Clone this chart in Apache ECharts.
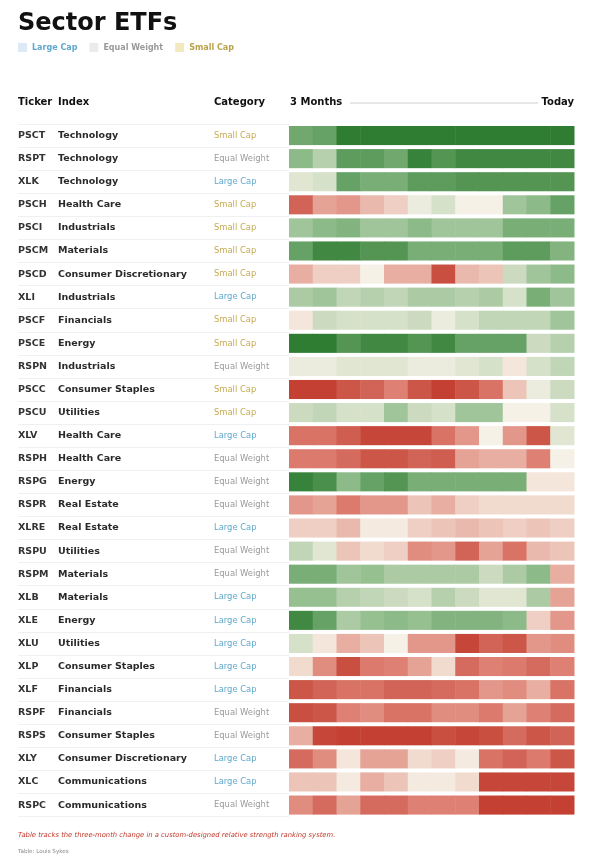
<!DOCTYPE html>
<html>
<head>
<meta charset="utf-8">
<script src="https://cdn.jsdelivr.net/npm/echarts@6/dist/echarts.min.js"></script>
<style>
  html, body { margin: 0; padding: 0; background: #fff; }
  #chart { width: 591px; height: 860px; }
</style>
</head>
<body>
<div id="chart"></div>
<script>
// rows, top to bottom
var tickers = ['PSCT', 'RSPT', 'XLK', 'PSCH', 'PSCI', 'PSCM', 'PSCD', 'XLI', 'PSCF', 'PSCE',
  'RSPN', 'PSCC', 'PSCU', 'XLV', 'RSPH', 'RSPG', 'RSPR', 'XLRE', 'RSPU', 'RSPM',
  'XLB', 'XLE', 'XLU', 'XLP', 'XLF', 'RSPF', 'RSPS', 'XLY', 'XLC', 'RSPC']
var sectors = ['Technology', 'Technology', 'Technology', 'Health Care', 'Industrials', 'Materials',
  'Consumer Discretionary', 'Industrials', 'Financials', 'Energy', 'Industrials', 'Consumer Staples',
  'Utilities', 'Health Care', 'Health Care', 'Energy', 'Real Estate', 'Real Estate', 'Utilities',
  'Materials', 'Materials', 'Energy', 'Utilities', 'Consumer Staples', 'Financials', 'Financials',
  'Consumer Staples', 'Consumer Discretionary', 'Communications', 'Communications']
var caps = ['Small Cap', 'Equal Weight', 'Large Cap', 'Small Cap', 'Small Cap', 'Small Cap',
  'Small Cap', 'Large Cap', 'Small Cap', 'Small Cap', 'Equal Weight', 'Small Cap',
  'Small Cap', 'Large Cap', 'Equal Weight', 'Equal Weight', 'Equal Weight', 'Large Cap',
  'Equal Weight', 'Equal Weight', 'Large Cap', 'Large Cap', 'Large Cap', 'Large Cap',
  'Large Cap', 'Equal Weight', 'Equal Weight', 'Large Cap', 'Large Cap', 'Equal Weight']
var weeks = ['W1', 'W2', 'W3', 'W4', 'W5', 'W6', 'W7', 'W8', 'W9', 'W10', 'W11', 'W12']

// relative strength change, -10 (weak) .. 10 (strong), oldest -> today
var scores = [
  [6.5, 7, 10, 10, 10, 10, 10, 10, 10, 10, 10, 10],
  [5, 3, 7.5, 7.5, 6.5, 9.5, 8, 9, 9, 9, 9, 9],
  [1, 1.5, 7, 6, 6, 7.5, 7.5, 8, 8, 8, 8, 8],
  [-7, -3.5, -4, -2.5, -1.5, 0.5, 1.5, 0, 0, 4, 5, 7],
  [4, 5, 5.5, 4, 4, 5, 4, 4, 4, 6, 6, 6],
  [7, 9, 9, 8, 8, 6, 6, 6, 6, 7.5, 7.5, 5.5],
  [-3, -1.5, -1.5, 0, -3, -3, -8.5, -2.5, -2, 2, 4, 5],
  [3.5, 4, 2.5, 3, 2.5, 3.5, 3.5, 3, 3.5, 1.5, 6, 4],
  [-0.5, 2, 1.5, 1.5, 1.5, 2, 0.5, 1.5, 2.5, 2.5, 2.5, 4],
  [10, 10, 8, 9, 9, 8, 9, 7, 7, 7, 2, 3],
  [0.5, 0.5, 1, 1, 1, 0.5, 0.5, 1, 1.5, -0.5, 1.5, 2.5],
  [-9.5, -9.5, -8, -7, -5, -8, -9.5, -8, -6, -2, 0.5, 2],
  [2, 2.5, 1.5, 1.5, 4, 2, 1.5, 4, 4, 0, 0, 1.5],
  [-6, -6, -7.5, -9, -9, -9, -6, -4, 0, -4, -8, 1],
  [-5.5, -5.5, -6.5, -8, -8, -7, -7.5, -3.5, -3, -3, -5, 0],
  [9.5, 8.5, 5, 7, 8, 6, 6, 6, 6, 6, -0.5, -0.5],
  [-4, -3.5, -5.5, -4, -4, -2, -3, -1.5, -1, -1, -1, -1],
  [-1.5, -1.5, -2.5, -0.3, -0.3, -1.5, -2, -2.5, -2, -1.5, -2, -1.5],
  [2.5, 1, -2, -1, -1.5, -4.5, -4, -7, -3.5, -6, -2.5, -2],
  [6, 6, 4, 4.5, 3.5, 3.5, 3.5, 3.5, 2, 3.5, 5, -3],
  [4.5, 4.5, 3, 2.5, 2, 1.5, 3, 2, 1, 1, 3.5, -3.5],
  [9, 7, 3.5, 4.5, 5, 4.5, 5.5, 5.5, 5.5, 5, -1.5, -4],
  [1.5, -0.5, -3, -2, 0, -4, -4, -9, -7, -8, -4, -4.5],
  [-1, -4.5, -8.5, -5.5, -5, -3.5, -1, -6.5, -5, -5.5, -6.5, -5],
  [-8, -7, -6, -6, -7, -7, -6.5, -6, -4, -4.5, -3, -6],
  [-8.5, -8, -5, -4.5, -6, -6, -4.5, -4.5, -5.5, -3.5, -5, -6.5],
  [-3, -9, -9.5, -9.5, -9.5, -9.5, -8.5, -9, -8.5, -6.5, -8, -7],
  [-6.5, -4.5, -0.5, -3.5, -3.5, -1, -1.5, -0.3, -6, -7, -5.5, -8],
  [-2, -2, -0.3, -3, -2, -0.3, -0.3, -1, -9, -9, -9, -9],
  [-4.5, -6.5, -3.5, -6.5, -6.5, -5, -5, -5, -9.5, -9.5, -9.5, -9.5]
]

var capColors = { 'Large Cap': '#5fa8cc', 'Equal Weight': '#9a9a9a', 'Small Cap': '#c4aa52' }
var capKeys = { 'Large Cap': 'lc', 'Equal Weight': 'ew', 'Small Cap': 'sc' }

var cells = []
scores.forEach(function(row, r) {
  row.forEach(function(v, c) {
    cells.push([c, r, v])
  })
})

var FONT = 'DejaVu Sans'
var TOP = 124
var HEIGHT = 692.6

var chart = echarts.init(document.getElementById('chart'))
chart.setOption({
  animation: false,
  textStyle: { fontFamily: FONT },
  title: {
    text: 'Sector ETFs',
    left: 13,
    top: 7,
    textStyle: { fontSize: 24, fontWeight: 'bold', color: '#111', fontFamily: FONT }
  },
  legend: {
    left: 18,
    top: 43,
    padding: 0,
    itemWidth: 9,
    itemHeight: 9,
    itemGap: 12,
    icon: 'rect',
    selectedMode: false,
    data: [
      { name: 'Large Cap', textStyle: { color: '#5fa8cc' } },
      { name: 'Equal Weight', textStyle: { color: '#9a9a9a' } },
      { name: 'Small Cap', textStyle: { color: '#b9a24a' } }
    ],
    textStyle: { fontSize: 8, fontWeight: 'bold', fontFamily: FONT }
  },
  graphic: [
    { type: 'text', left: 18, top: 97, style: { text: 'Ticker', font: 'bold 10px "DejaVu Sans"', fill: '#111' } },
    { type: 'text', left: 58, top: 97, style: { text: 'Index', font: 'bold 10px "DejaVu Sans"', fill: '#111' } },
    { type: 'text', left: 214, top: 97, style: { text: 'Category', font: 'bold 10px "DejaVu Sans"', fill: '#111' } },
    { type: 'text', left: 290, top: 97, style: { text: '3 Months', font: 'bold 10px "DejaVu Sans"', fill: '#111' } },
    { type: 'text', right: 17, top: 97, style: { text: 'Today', font: 'bold 10px "DejaVu Sans"', fill: '#111' } },
    { type: 'line', shape: { x1: 350, y1: 103, x2: 538, y2: 103 }, style: { stroke: '#cfcfcf', lineWidth: 1 } },
    { type: 'text', left: 18, top: 832, style: { text: 'Table tracks the three-month change in a custom-designed relative strength ranking system.', font: 'italic 6.8px "DejaVu Sans"', fill: '#c0392b' } },
    { type: 'text', left: 18, top: 849, style: { text: 'Table: Louis Sykes', font: '5.6px "DejaVu Sans"', fill: '#888' } }
  ],
  visualMap: {
    show: false,
    seriesIndex: 3,
    dimension: 2,
    min: -10,
    max: 10,
    inRange: { color: ['#c0392b', '#de8174', '#f6f1e6', '#8cba88', '#2e7d32'] }
  },
  grid: [
    { left: 18, width: 271, top: TOP, height: HEIGHT },
    { left: 289, right: 17, top: TOP, height: HEIGHT }
  ],
  xAxis: [
    { gridIndex: 0, type: 'value', show: false, min: 0, max: 1 },
    { gridIndex: 1, type: 'category', data: weeks, show: false }
  ],
  yAxis: [
    {
      gridIndex: 0,
      type: 'category',
      data: tickers,
      inverse: true,
      axisLine: { show: false },
      axisTick: { show: false },
      splitLine: { show: true, interval: 0, lineStyle: { color: '#f0f0f0', width: 1 } },
      axisLabel: {
        inside: true,
        margin: 0,
        interval: 0,
        formatter: function(value, i) {
          return '{t|' + value + '}{i|' + sectors[i] + '}{' + capKeys[caps[i]] + '|' + caps[i] + '}'
        },
        rich: {
          t: { width: 40, fontSize: 9.5, fontWeight: 'bold', color: '#333', fontFamily: FONT },
          i: { width: 156, fontSize: 9.5, fontWeight: 'bold', color: '#2a2a2a', fontFamily: FONT },
          lc: { width: 75, fontSize: 8.4, color: capColors['Large Cap'], fontFamily: FONT },
          ew: { width: 75, fontSize: 8.4, color: capColors['Equal Weight'], fontFamily: FONT },
          sc: { width: 75, fontSize: 8.4, color: capColors['Small Cap'], fontFamily: FONT }
        }
      }
    },
    { gridIndex: 1, type: 'category', data: tickers, inverse: true, show: false }
  ],
  series: [
    { name: 'Large Cap', type: 'scatter', data: [], itemStyle: { color: '#d5e5f3' } },
    { name: 'Equal Weight', type: 'scatter', data: [], itemStyle: { color: '#e6e6e6' } },
    { name: 'Small Cap', type: 'scatter', data: [], itemStyle: { color: '#f0e4b0' } },
    {
      type: 'custom',
      xAxisIndex: 1,
      yAxisIndex: 1,
      data: cells,
      encode: { x: 0, y: 1 },
      renderItem: function(params, api) {
        var p = api.coord([api.value(0), api.value(1)])
        var s = api.size([1, 1])
        return {
          type: 'rect',
          shape: { x: p[0] - s[0] / 2, y: p[1] - s[1] / 2 + 2, width: s[0] + 0.5, height: s[1] - 4 },
          style: { fill: api.visual('color') }
        }
      }
    }
  ]
})
</script>
</body>
</html>
